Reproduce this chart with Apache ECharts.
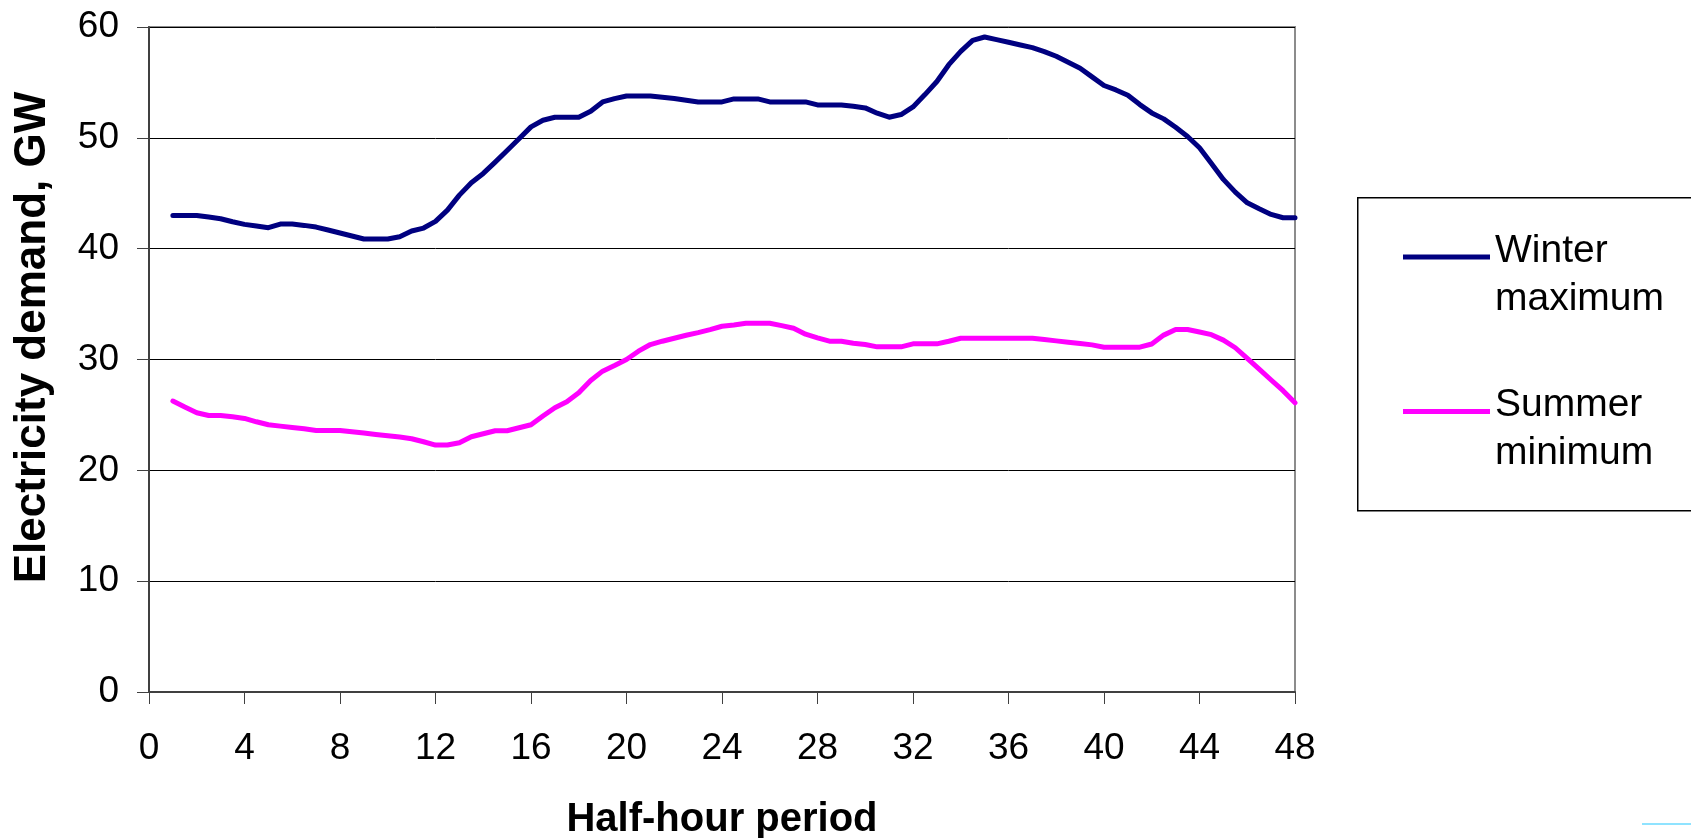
<!DOCTYPE html>
<html>
<head>
<meta charset="utf-8">
<script src="https://cdn.jsdelivr.net/npm/echarts@6/dist/echarts.min.js"></script>
<style>
  html, body { margin: 0; padding: 0; background: #ffffff; }
  #chart { width: 1691px; height: 838px; }
</style>
</head>
<body>
<div id="chart"></div>
<script>
// Half-hour periods (x values of the plotted points)
const periods = [
  1, 1.5, 2, 2.5, 3, 3.5, 4, 4.5, 5, 5.5, 6, 6.5, 7, 7.5, 8, 8.5, 9, 9.5, 10, 10.5,
  11, 11.5, 12, 12.5, 13, 13.5, 14, 14.5, 15, 15.5, 16, 16.5, 17, 17.5, 18, 18.5, 19, 19.5, 20, 20.5,
  21, 21.5, 22, 22.5, 23, 23.5, 24, 24.5, 25, 25.5, 26, 26.5, 27, 27.5, 28, 28.5, 29, 29.5, 30, 30.5,
  31, 31.5, 32, 32.5, 33, 33.5, 34, 34.5, 35, 35.5, 36, 36.5, 37, 37.5, 38, 38.5, 39, 39.5, 40, 40.5,
  41, 41.5, 42, 42.5, 43, 43.5, 44, 44.5, 45, 45.5, 46, 46.5, 47, 47.5, 48
];

// Winter maximum demand, GW
const winterMaximum = [
  43.0, 43.0, 43.0, 42.85, 42.7, 42.43, 42.19, 42.04, 41.89, 42.22, 42.22, 42.1, 41.95, 41.68, 41.41, 41.14, 40.87, 40.87, 40.87, 41.08,
  41.59, 41.86, 42.46, 43.48, 44.83, 45.95, 46.79, 47.81, 48.86, 49.91, 50.99, 51.59, 51.86, 51.86, 51.86, 52.4, 53.24, 53.54, 53.78, 53.78,
  53.78, 53.66, 53.54, 53.39, 53.24, 53.24, 53.24, 53.51, 53.51, 53.51, 53.24, 53.24, 53.24, 53.24, 52.97, 52.97, 52.97, 52.85, 52.7, 52.22,
  51.86, 52.1, 52.79, 53.9, 55.08, 56.6, 57.8, 58.8, 59.1, 58.86, 58.62, 58.38, 58.14, 57.78, 57.36, 56.82, 56.28, 55.5, 54.72, 54.32,
  53.84, 53.0, 52.25, 51.71, 50.95, 50.12, 49.1, 47.69, 46.25, 45.1, 44.14, 43.6, 43.09, 42.79, 42.79
];

// Summer minimum demand, GW
const summerMinimum = [
  26.25, 25.71, 25.2, 24.95, 24.95, 24.83, 24.68, 24.38, 24.11, 23.99, 23.87, 23.75, 23.6, 23.6, 23.6, 23.48, 23.36, 23.24, 23.12, 23.0,
  22.85, 22.58, 22.28, 22.28, 22.49, 23.03, 23.3, 23.57, 23.57, 23.84, 24.11, 24.9, 25.65, 26.19, 27.0, 28.11, 28.95, 29.46, 30.0, 30.75,
  31.35, 31.65, 31.92, 32.19, 32.43, 32.7, 33.0, 33.12, 33.27, 33.27, 33.27, 33.06, 32.82, 32.28, 31.95, 31.65, 31.65, 31.47, 31.35, 31.14,
  31.14, 31.14, 31.41, 31.41, 31.41, 31.65, 31.92, 31.92, 31.92, 31.92, 31.92, 31.92, 31.92, 31.8, 31.68, 31.56, 31.44, 31.32, 31.11, 31.11,
  31.11, 31.11, 31.4, 32.2, 32.71, 32.71, 32.48, 32.24, 31.75, 31.06, 30.1, 29.14, 28.15, 27.19, 26.1
];

const seriesNames = ['Winter maximum', 'Summer minimum'];
const xAxisTitle = 'Half-hour period';
const yAxisTitle = 'Electricity demand, GW';

const FONT = '"Liberation Sans", Arial, Helvetica, sans-serif';

function pairs(xs, ys) { return xs.map((x, i) => [x, ys[i]]); }

const chart = echarts.init(document.getElementById('chart'), null, { renderer: 'canvas' });

const LH = 48;       // legend line height
const LPAD = LH - 12; // height of the invisible leading line in legend labels

chart.setOption({
  backgroundColor: '#ffffff',
  animation: false,
  textStyle: { fontFamily: FONT },
  grid: {
    left: 149, top: 27, width: 1146, height: 665,
    containLabel: false,
    outerBoundsMode: 'none',
    show: true, borderColor: '#8c8c8c', borderWidth: 2, backgroundColor: 'transparent'
  },
  xAxis: {
    type: 'value',
    min: 0, max: 48, interval: 4,
    name: xAxisTitle,
    nameLocation: 'middle',
    nameGap: 108,
    nameTextStyle: { fontFamily: FONT, fontSize: 40, fontWeight: 'bold', color: '#000' },
    axisLine: { show: true, onZero: false, lineStyle: { color: '#404040', width: 2 } },
    axisTick: { show: true, inside: false, length: 12, lineStyle: { color: '#404040', width: 1 } },
    axisLabel: { margin: 38, fontFamily: FONT, fontSize: 37, color: '#000' },
    splitLine: { show: false }
  },
  yAxis: {
    type: 'value',
    min: 0, max: 60, interval: 10,
    name: yAxisTitle,
    nameLocation: 'middle',
    nameRotate: 90,
    nameGap: 94,
    nameTextStyle: { fontFamily: FONT, fontSize: 44, fontWeight: 'bold', color: '#000', padding: [0, 0, 0, 44] },
    axisLine: { show: true, lineStyle: { color: '#404040', width: 2 } },
    axisTick: { show: true, inside: false, length: 12, lineStyle: { color: '#404040', width: 1 } },
    axisLabel: { margin: 30, fontFamily: FONT, fontSize: 37, color: '#000' },
    splitLine: { show: true, lineStyle: { color: '#000000', width: 1 } }
  },
  legend: {
    orient: 'vertical',
    left: 1403,
    top: 204,
    padding: 0,
    itemGap: 40,
    itemWidth: 87,
    itemHeight: 5,
    icon: 'rect',
    data: seriesNames,
    formatter: function (name) {
      const parts = name.split(' ');
      return '{pad| }\n{t|' + parts[0] + '}\n{t|' + parts[1] + '}';
    },
    textStyle: {
      fontFamily: FONT, fontSize: 39, color: '#000',
      rich: {
        pad: { fontSize: 10, lineHeight: LPAD },
        t: { fontFamily: FONT, fontSize: 39, color: '#000', lineHeight: LH }
      }
    }
  },
  graphic: [
    {
      type: 'rect',
      left: 1357, top: 197, z: -1,
      shape: { width: 340, height: 313 },
      style: { fill: '#ffffff', stroke: '#000000', lineWidth: 1.5 }
    },
    {
      type: 'line',
      shape: { x1: 1642, y1: 824, x2: 1691, y2: 824 },
      style: { stroke: '#8fe3ff', lineWidth: 2 }
    }
  ],
  series: [
    {
      name: seriesNames[0],
      type: 'line',
      data: pairs(periods, winterMaximum),
      showSymbol: false,
      symbol: 'none',
      color: '#000080',
      lineStyle: { color: '#000080', width: 5, cap: 'round', join: 'round' },
      z: 3
    },
    {
      name: seriesNames[1],
      type: 'line',
      data: pairs(periods, summerMinimum),
      showSymbol: false,
      symbol: 'none',
      color: '#ff00ff',
      lineStyle: { color: '#ff00ff', width: 5, cap: 'round', join: 'round' },
      z: 3
    }
  ]
});
</script>
</body>
</html>
